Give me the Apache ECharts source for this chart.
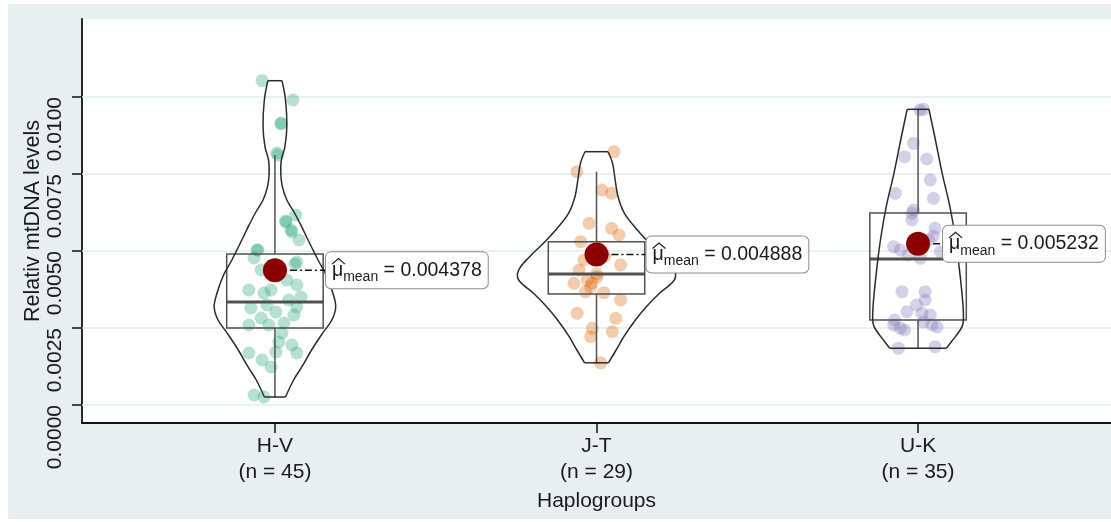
<!DOCTYPE html>
<html>
<head>
<meta charset="utf-8">
<script src="https://cdn.jsdelivr.net/npm/echarts@6/dist/echarts.min.js"></script>
<style>
  html, body { margin: 0; padding: 0; background: #ffffff; }
  #chart { width: 1111px; height: 522px; }
</style>
</head>
<body>
<div id="chart"></div>
<script>
// ---- data ----
const groups = ['H-V', 'J-T', 'U-K'];
const groupN = [45, 29, 35];
const yTicks = [0, 0.0025, 0.005, 0.0075, 0.01];
const groupMeans = [0.004378, 0.004888, 0.005232];

// box statistics: [lower whisker, Q1, median, Q3, upper whisker]
const boxHV = [0.00026, 0.0025, 0.003344, 0.0049, 0.008117];
const boxJT = [0.00137, 0.003604, 0.004253, 0.005302, 0.007575];
const boxUK = [0.00184, 0.00276, 0.00474, 0.006234, 0.0096];

// violin outlines: [value, half width in group units], top to bottom
const violinHV = [[0.010529,0.022],[0.009903,0.033],[0.009036,0.037],[0.008386,0.031],[0.007955,0.020],[0.007532,0.018],[0.007088,0.023],[0.006656,0.037],[0.006234,0.061],[0.005789,0.083],[0.005357,0.103],[0.004708,0.134],[0.004166,0.162],[0.003636,0.180],[0.003192,0.189],[0.00276,0.177],[0.002328,0.148],[0.001786,0.114],[0.001244,0.084],[0.000812,0.058],[0.00026,0.033]];
const violinJT = [[0.008224,0.036],[0.007847,0.050],[0.007305,0.058],[0.006763,0.067],[0.006224,0.087],[0.005682,0.127],[0.00525,0.165],[0.004815,0.208],[0.004383,0.242],[0.004058,0.242],[0.003627,0.196],[0.003192,0.155],[0.00276,0.121],[0.002218,0.085],[0.001786,0.061],[0.00137,0.037]];
const violinUK = [[0.0096,0.034],[0.008604,0.054],[0.007523,0.075],[0.006438,0.099],[0.005357,0.117],[0.004276,0.130],[0.003192,0.140],[0.002653,0.140],[0.002435,0.131],[0.002045,0.103],[0.00184,0.088]];

// observations and their horizontal jitter
const valuesHV = [0.010529,0.009903,0.009156,0.008182,0.006169,0.005942,0.005617,0.005357,0.005032,0.004773,0.004643,0.003734,0.003636,0.003896,0.003506,0.003149,0.003019,0.003182,0.002825,0.002922,0.002597,0.002662,0.002338,0.001948,0.001688,0.001721,0.001688,0.001461,0.001234,0.000325,0.00026,0.009123,0.008117,0.005974,0.005682,0.005032,0.003734,0.003409,0.003247,0.004448,0.004383,0.004058,0.002597,0.002045,0.004578];
const jitterHV = [-0.040,0.056,0.019,0.006,0.065,0.034,0.053,0.075,-0.056,-0.065,0.068,-0.081,-0.034,0.068,0.081,-0.075,0.003,0.068,-0.043,0.059,-0.081,0.028,0.022,0.053,0.068,0.003,-0.081,-0.040,-0.012,-0.065,-0.034,0.019,0.009,0.034,0.050,-0.053,-0.012,0.043,-0.025,-0.006,-0.043,0.037,-0.019,0.012,0.062];
const valuesJT = [0.008224,0.007575,0.006981,0.006873,0.005899,0.005737,0.005519,0.005302,0.005032,0.004838,0.004708,0.004545,0.004383,0.005097,0.004253,0.003951,0.004058,0.004156,0.003841,0.003679,0.003646,0.003961,0.003409,0.002977,0.002815,0.00249,0.00238,0.002218,0.00137];
const jitterJT = [0.054,-0.061,0.017,0.047,-0.023,0.047,0.070,-0.049,-0.008,0.026,-0.039,0.075,-0.054,0.008,0.000,-0.070,-0.029,0.002,-0.018,-0.034,0.023,-0.014,0.075,-0.060,0.060,-0.013,0.049,-0.018,0.013];
const valuesUK = [0.0096,0.008497,0.008062,0.007987,0.007305,0.006873,0.006711,0.006224,0.009578,0.006006,0.005737,0.00514,0.005032,0.004977,0.004763,0.005357,0.00487,0.005487,0.003679,0.003679,0.003409,0.003029,0.002977,0.002922,0.003247,0.002597,0.00249,0.002597,0.002532,0.00184,0.001893,0.002435,0.002695,0.00276,0.006331];
const jitterUK = [0.017,-0.014,-0.042,0.027,0.038,-0.071,0.048,-0.019,0.005,-0.019,0.053,-0.076,-0.055,0.069,0.007,0.033,-0.030,0.048,-0.050,0.022,0.022,-0.035,0.012,0.038,-0.005,-0.076,-0.055,0.043,0.059,-0.061,0.053,-0.042,0.017,-0.073,-0.014];

// ---- styling ----
const FONT = '"Liberation Sans", Arial, Helvetica, sans-serif';
const TEXT = '#1a1a1a';
const pointColors = ['rgba(27,158,119,0.4)', 'rgba(217,95,2,0.4)', 'rgba(117,112,179,0.4)'];
const labelShift = [51, 50, 25];     // horizontal gap from mean dot to its label box, px
const BOX_HALF = 0.15;

const boxes = [boxHV, boxJT, boxUK];
const violins = [violinHV, violinJT, violinUK];
const values = [valuesHV, valuesJT, valuesUK];
const jitters = [jitterHV, jitterJT, jitterUK];

const chart = echarts.init(document.getElementById('chart'), null, { renderer: 'canvas' });

const series = [];

// horizontal reference lines
series.push({
  type: 'custom',
  z: 1,
  silent: true,
  data: yTicks.map(v => [0.4, v]),
  encode: { x: 0, y: 1 },
  renderItem: (params, api) => {
    const a = api.coord([0.4, api.value(1)]);
    const b = api.coord([3.6, api.value(1)]);
    return {
      type: 'line',
      shape: { x1: a[0], y1: a[1], x2: b[0] + 2, y2: b[1] },
      style: { stroke: '#e2eeee', lineWidth: 1.5 }
    };
  }
});

// jittered observations
values.forEach((vals, g) => {
  series.push({
    type: 'scatter',
    z: 2,
    symbol: 'circle',
    symbolSize: 13,
    itemStyle: { color: pointColors[g], borderWidth: 0 },
    silent: true,
    data: vals.map((v, i) => [g + 1 + jitters[g][i], v])
  });
});

// box plots
series.push({
  type: 'custom',
  z: 3,
  silent: true,
  data: boxes.map((b, g) => [g + 1, b[2]]),
  encode: { x: 0, y: 1 },
  renderItem: (params, api) => {
    const g = params.dataIndex;
    const x = g + 1;
    const b = boxes[g];
    const tl = api.coord([x - BOX_HALF, b[3]]);
    const br = api.coord([x + BOX_HALF, b[1]]);
    const m1 = api.coord([x - BOX_HALF, b[2]]);
    const m2 = api.coord([x + BOX_HALF, b[2]]);
    const wTop = api.coord([x, b[4]]);
    const wQ3 = api.coord([x, b[3]]);
    const wQ1 = api.coord([x, b[1]]);
    const wBot = api.coord([x, b[0]]);
    const st = { stroke: '#505050', lineWidth: 1.5, fill: null };
    return {
      type: 'group',
      children: [
        { type: 'line', shape: { x1: wQ3[0], y1: wQ3[1], x2: wTop[0], y2: wTop[1] }, style: st },
        { type: 'line', shape: { x1: wQ1[0], y1: wQ1[1], x2: wBot[0], y2: wBot[1] }, style: st },
        { type: 'rect', shape: { x: tl[0], y: tl[1], width: br[0] - tl[0], height: br[1] - tl[1] }, style: st },
        { type: 'line', shape: { x1: m1[0], y1: m1[1], x2: m2[0], y2: m2[1] }, style: { stroke: '#505050', lineWidth: 3 } }
      ]
    };
  }
});

// violin outlines
series.push({
  type: 'custom',
  z: 4,
  silent: true,
  data: violins.map((v, g) => [g + 1, v[0][0]]),
  encode: { x: 0, y: 1 },
  renderItem: (params, api) => {
    const g = params.dataIndex;
    const x = g + 1;
    const outline = violins[g];
    const right = outline.map(p => api.coord([x + p[1], p[0]]));
    const left = outline.map(p => api.coord([x - p[1], p[0]]));
    const st = { stroke: '#2b2b2b', lineWidth: 1.5, fill: null };
    const n = outline.length - 1;
    return {
      type: 'group',
      children: [
        { type: 'polyline', shape: { points: right, smooth: 0.35 }, style: st },
        { type: 'polyline', shape: { points: left, smooth: 0.35 }, style: st },
        { type: 'line', shape: { x1: left[0][0], y1: left[0][1], x2: right[0][0], y2: right[0][1] }, style: st },
        { type: 'line', shape: { x1: left[n][0], y1: left[n][1], x2: right[n][0], y2: right[n][1] }, style: st }
      ]
    };
  }
});

// group means with labels (mu-hat with subscript "mean")
series.push({
  type: 'custom',
  z: 5,
  silent: true,
  data: groupMeans.map((m, g) => [g + 1, m]),
  encode: { x: 0, y: 1 },
  renderItem: (params, api) => {
    const g = params.dataIndex;
    const p = api.coord([api.value(0), api.value(1)]);
    const lx = p[0] + labelShift[g];
    const txt = '{mu|μ}{sub|mean}{eq| = ' + groupMeans[g].toFixed(6) + '}';
    return {
      type: 'group',
      children: [
        { type: 'line', shape: { x1: p[0], y1: p[1], x2: lx, y2: p[1] },
          style: { stroke: '#111', lineWidth: 1.5, lineDash: [7, 3, 2, 3] } },
        { type: 'circle', shape: { cx: p[0], cy: p[1], r: 12 }, style: { fill: '#8b0000' } },
        { type: 'text', x: lx, y: p[1],
          style: {
            text: txt,
            align: 'left',
            verticalAlign: 'middle',
            backgroundColor: '#ffffff',
            borderColor: '#8a8a8a',
            borderWidth: 1,
            borderRadius: 5,
            padding: [4, 6, 4, 6],
            fill: TEXT,
            rich: {
              mu: { fontFamily: FONT, fontSize: 19.5, lineHeight: 28, fill: TEXT, verticalAlign: 'middle' },
              sub: { fontFamily: FONT, fontSize: 14, lineHeight: 16, fill: TEXT, verticalAlign: 'bottom' },
              eq: { fontFamily: FONT, fontSize: 19.5, lineHeight: 28, fill: TEXT, verticalAlign: 'middle' }
            }
          }
        },
        // wide hat over mu
        { type: 'polyline', z2: 10,
          shape: { points: [[lx + 6, p[1] - 6], [lx + 12.5, p[1] - 11.5], [lx + 19, p[1] - 6]] },
          style: { stroke: TEXT, lineWidth: 1.2, fill: null } }
      ]
    };
  }
});

const option = {
  backgroundColor: '#ffffff',
  animation: false,
  graphic: [{
    type: 'rect', z: -10, silent: true,
    shape: { x: 8, y: 4, width: 1103, height: 515 },
    style: { fill: '#e9eff1' }
  }],
  grid: {
    left: 82, right: -1, top: 19, bottom: 99,
    show: true, backgroundColor: '#ffffff', borderWidth: 0
  },
  xAxis: {
    type: 'value',
    min: 0.4, max: 3.6,
    name: 'Haplogroups',
    nameLocation: 'middle',
    nameGap: 68,
    nameMoveOverlap: false,
    nameTextStyle: { fontFamily: FONT, fontSize: 21, color: TEXT },
    axisLine: { show: true, onZero: false, lineStyle: { color: '#111', width: 1.8 } },
    axisTick: { show: true, customValues: [1, 2, 3], length: 10, lineStyle: { color: '#111', width: 1.5 } },
    axisLabel: {
      customValues: [1, 2, 3],
      margin: 10,
      fontFamily: FONT, fontSize: 21, lineHeight: 26, color: TEXT,
      formatter: v => {
        const i = Math.round(v) - 1;
        return groups[i] + '\n(n = ' + groupN[i] + ')';
      }
    },
    splitLine: { show: false }
  },
  yAxis: {
    type: 'value',
    min: -0.000584, max: 0.012532,
    name: 'Relativ mtDNA levels',
    nameLocation: 'middle',
    nameGap: 38,
    nameMoveOverlap: false,
    nameTextStyle: { fontFamily: FONT, fontSize: 21.5, color: TEXT },
    axisLine: { show: true, onZero: false, lineStyle: { color: '#111', width: 1.8 } },
    axisTick: { show: true, customValues: yTicks, length: 10, lineStyle: { color: '#111', width: 1.5 } },
    axisLabel: {
      customValues: yTicks,
      rotate: 90,
      align: 'right',
      verticalAlign: 'middle',
      margin: 27,
      fontFamily: FONT, fontSize: 21, color: TEXT,
      formatter: v => v.toFixed(4)
    },
    splitLine: { show: false }
  },
  series: series
};

chart.setOption(option);
</script>
</body>
</html>
